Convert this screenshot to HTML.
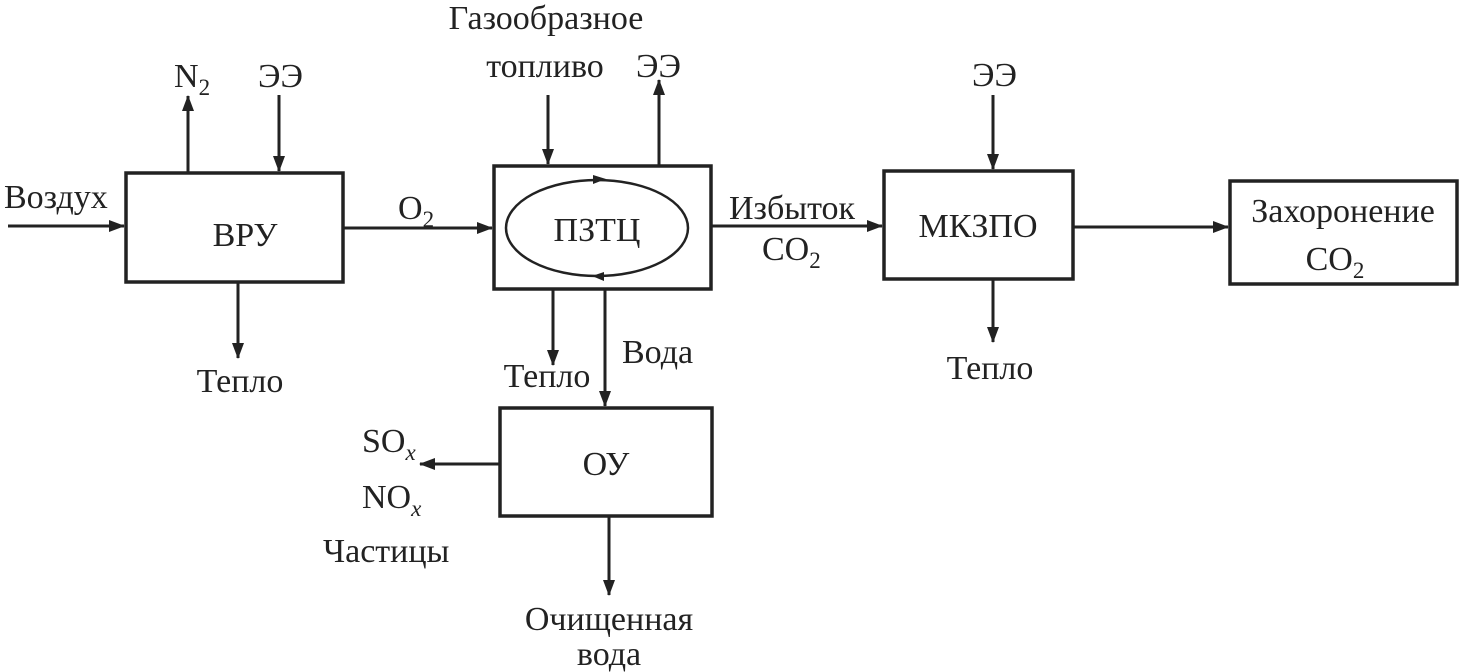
<!DOCTYPE html>
<html><head><meta charset="utf-8"><style>
html,body{margin:0;padding:0;background:#fff;}
svg{display:block;}
text{font-family:"Liberation Serif","Noto Serif CJK SC",serif;font-size:34px;fill:#222;}
</style></head><body>
<svg width="1466" height="672" viewBox="0 0 1466 672" xmlns="http://www.w3.org/2000/svg">
<defs>
<marker id="b" markerWidth="16" markerHeight="12" refX="15" refY="6" orient="auto" markerUnits="userSpaceOnUse">
<path d="M0,0 L16,6 L0,12 Z" fill="#222"/></marker>
</defs>
<g stroke="#222" stroke-width="3.5" fill="none">
<rect x="126" y="173" width="217" height="109"/>
<rect x="494" y="166" width="217" height="123"/>
<rect x="884" y="171" width="189" height="108"/>
<rect x="1230" y="181" width="227" height="103"/>
<rect x="500" y="408" width="212" height="108"/>
</g>
<g stroke="#222" stroke-width="3" fill="none">
<ellipse cx="597" cy="228" rx="91" ry="48" stroke-width="2.5"/>
<line x1="8" y1="226" x2="124" y2="226" marker-end="url(#b)"/>
<line x1="188" y1="173" x2="188" y2="96" marker-end="url(#b)"/>
<line x1="279" y1="95" x2="279" y2="171" marker-end="url(#b)"/>
<line x1="238" y1="282" x2="238" y2="358" marker-end="url(#b)"/>
<line x1="343" y1="228" x2="492" y2="228" marker-end="url(#b)"/>
<line x1="548" y1="95" x2="548" y2="164" marker-end="url(#b)"/>
<line x1="659" y1="166" x2="659" y2="80" marker-end="url(#b)"/>
<line x1="553" y1="289" x2="553" y2="365" marker-end="url(#b)"/>
<line x1="605" y1="289" x2="605" y2="406" marker-end="url(#b)"/>
<line x1="711" y1="226" x2="882" y2="226" marker-end="url(#b)"/>
<line x1="993" y1="95" x2="993" y2="169" marker-end="url(#b)"/>
<line x1="993" y1="279" x2="993" y2="342" marker-end="url(#b)"/>
<line x1="1073" y1="227" x2="1228" y2="227" marker-end="url(#b)"/>
<line x1="500" y1="464" x2="420" y2="464" marker-end="url(#b)"/>
<line x1="609" y1="516" x2="609" y2="595" marker-end="url(#b)"/>
</g>
<path d="M593,175 L606,179 L593,184 Z" fill="#222"/>
<path d="M604,272 L592,276 L604,281 Z" fill="#222"/>
<text x="245" y="246" text-anchor="middle">ВРУ</text>
<text x="597" y="241" text-anchor="middle" font-size="36">ПЗТЦ</text>
<text x="978" y="237" text-anchor="middle">МКЗПО</text>
<text x="1343" y="222" text-anchor="middle">Захоронение</text>
<text x="1335" y="270" text-anchor="middle">CO<tspan font-size="23" dy="8">2</tspan></text>
<text x="606" y="475" text-anchor="middle">ОУ</text>
<text x="4" y="208">Воздух</text>
<text x="174" y="87">N<tspan font-size="23" dy="8">2</tspan></text>
<text x="258" y="87">ЭЭ</text>
<text x="240" y="392" text-anchor="middle">Тепло</text>
<text x="398" y="219">O<tspan font-size="23" dy="8">2</tspan></text>
<text x="546" y="29" text-anchor="middle">Газообразное</text>
<text x="545" y="77" text-anchor="middle">топливо</text>
<text x="636" y="77">ЭЭ</text>
<text x="729" y="219">Избыток</text>
<text x="762" y="260">CO<tspan font-size="23" dy="8">2</tspan></text>
<text x="547" y="387" text-anchor="middle">Тепло</text>
<text x="622" y="363">Вода</text>
<text x="972" y="86">ЭЭ</text>
<text x="990" y="379" text-anchor="middle">Тепло</text>
<text x="362" y="452">SO<tspan font-size="23" font-style="italic" dy="8">x</tspan></text>
<text x="362" y="508">NO<tspan font-size="23" font-style="italic" dy="8">x</tspan></text>
<text x="323" y="562">Частицы</text>
<text x="609" y="630" text-anchor="middle">Очищенная</text>
<text x="609" y="665" text-anchor="middle">вода</text>
</svg>
</body></html>
